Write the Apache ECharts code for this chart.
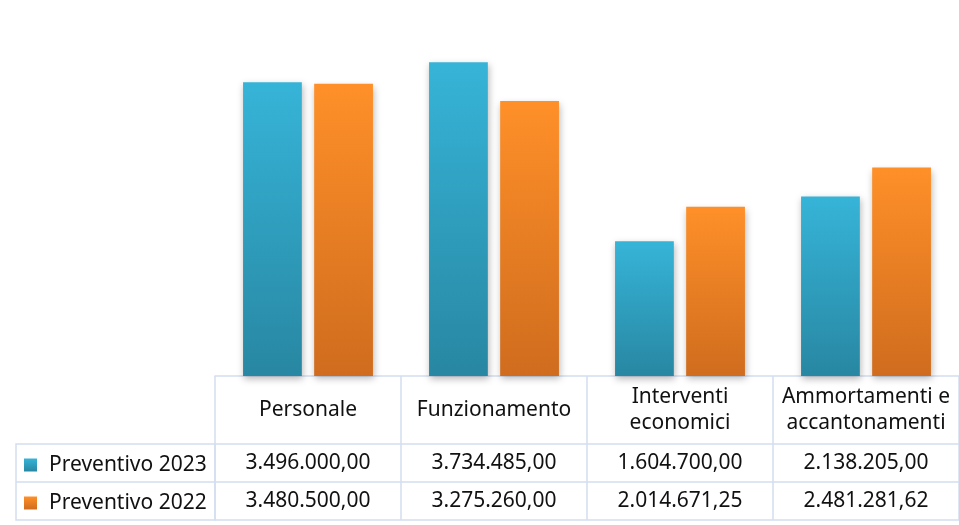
<!DOCTYPE html>
<html>
<head>
<meta charset="utf-8">
<script src="https://cdn.jsdelivr.net/npm/echarts@6/dist/echarts.min.js"></script>
<style>
html,body{margin:0;padding:0;background:#fff;}
#chart{width:959px;height:525px;}
</style>
</head>
<body>
<div id="chart"></div>
<script>
// ---- data ----
var categories = ['Personale', 'Funzionamento', 'Interventi\neconomici', 'Ammortamenti e\naccantonamenti'];
var seriesNames = ['Preventivo 2023', 'Preventivo 2022'];
var values2023 = [3496000.00, 3734485.00, 1604700.00, 2138205.00];
var values2022 = [3480500.00, 3275260.00, 2014671.25, 2481281.62];

// ---- helpers ----
function fmtIt(v) {
  var parts = v.toFixed(2).split('.');
  var int = parts[0].replace(/\B(?=(\d{3})+(?!\d))/g, '.');
  return int + ',' + parts[1];
}
var FONT = 'Noto Sans';
var FS = 21;
var TXT = '#111';
var LINE = '#D3DEEF';

var blueGrad = new echarts.graphic.LinearGradient(0, 0, 0, 1, [
  {offset: 0, color: '#36B4D8'}, {offset: 1, color: '#2887A2'}]);
var orangeGrad = new echarts.graphic.LinearGradient(0, 0, 0, 1, [
  {offset: 0, color: '#FF9029'}, {offset: 1, color: '#CF6C1E'}]);

var chart = echarts.init(document.getElementById('chart'));

function tableAxis(offset, tickLen, labelFn, showLabel) {
  return {
    type: 'category',
    data: categories,
    position: 'bottom',
    offset: offset,
    axisLine: {show: true, lineStyle: {color: LINE, width: 1.5}},
    axisTick: {show: tickLen > 0, length: tickLen, interval: 0, lineStyle: {color: LINE, width: 1.5}},
    axisLabel: {
      show: showLabel,
      interval: 0,
      formatter: labelFn,
      margin: tickLen / 2,
      verticalAlign: 'middle',
      color: TXT,
      fontFamily: FONT,
      fontSize: FS,
      lineHeight: 26
    },
    splitLine: {show: false}
  };
}

var option = {
  backgroundColor: '#fff',
  animation: false,
  grid: {left: 215, width: 747, top: 40, height: 336, containLabel: false},
  legend: {
    orient: 'vertical',
    left: 19,
    top: 449,
    itemWidth: 13,
    itemHeight: 13,
    itemGap: 16,
    icon: 'rect',
    textStyle: {color: TXT, fontFamily: FONT, fontSize: FS, lineHeight: 22, padding: [0, 0, 0, 7]},
    data: seriesNames
  },
  xAxis: [
    tableAxis(0, 68, function (v) { return v; }, true),
    tableAxis(68, 38, function (v, i) { return fmtIt(values2023[i]); }, true),
    tableAxis(106, 38, function (v, i) { return fmtIt(values2022[i]); }, true),
    tableAxis(144, 0, function () { return ''; }, false)
  ],
  yAxis: {
    type: 'value',
    min: 0,
    max: 4000000,
    show: false
  },
  graphic: [
    {type: 'rect', shape: {x: 16, y: 444, width: 199, height: 76},
     style: {fill: 'none', stroke: LINE, lineWidth: 1.5}, silent: true, z: -1},
    {type: 'line', shape: {x1: 16, y1: 482, x2: 215, y2: 482},
     style: {stroke: LINE, lineWidth: 1.5}, silent: true, z: -1}
  ],
  series: [
    {
      name: seriesNames[0],
      type: 'bar',
      xAxisIndex: 0,
      data: values2023,
      barWidth: '31.6%',
      barGap: '21%',
      itemStyle: {color: blueGrad, shadowBlur: 7, shadowColor: 'rgba(0,0,0,0.28)', shadowOffsetX: 1, shadowOffsetY: 3}
    },
    {
      name: seriesNames[1],
      type: 'bar',
      xAxisIndex: 0,
      data: values2022,
      barWidth: '31.6%',
      barGap: '21%',
      itemStyle: {color: orangeGrad, shadowBlur: 7, shadowColor: 'rgba(0,0,0,0.28)', shadowOffsetX: 1, shadowOffsetY: 3}
    }
  ]
};
chart.setOption(option);
</script>
</body>
</html>
